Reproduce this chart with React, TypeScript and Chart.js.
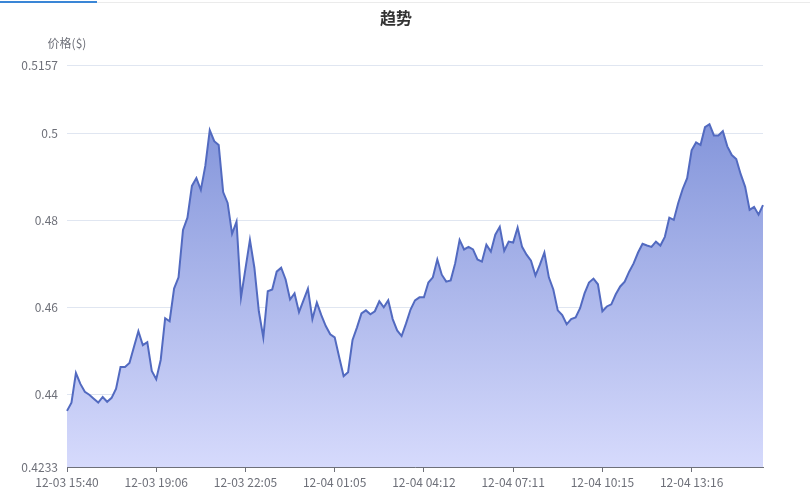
import React, { useEffect, useRef } from "react";
import { Chart, registerables } from "chart.js";

Chart.register(...registerables);

const chartTitle = "趋势";
const yAxisName = "价格($)";
const tickLabels = [
  "12-03 15:40",
  "12-03 19:06",
  "12-03 22:05",
  "12-04 01:05",
  "12-04 04:12",
  "12-04 07:11",
  "12-04 10:15",
  "12-04 13:16",
];
const labelStep = 20;
const yMin = 0.4233;
const yMax = 0.5157;
const yTicks = [0.4233, 0.44, 0.46, 0.48, 0.5, 0.5157];

const prices = [
  0.4362, 0.4381, 0.4449, 0.4424, 0.4406, 0.4399, 0.439, 0.4381, 0.4394, 0.4383,
  0.4392, 0.4413, 0.4463, 0.4463, 0.4472, 0.4509, 0.4545, 0.4513, 0.452, 0.4454,
  0.4435, 0.4479, 0.4575, 0.4568, 0.4643, 0.4669, 0.4778, 0.4806, 0.4879, 0.4897,
  0.487, 0.4925, 0.5007, 0.4982, 0.4973, 0.4865, 0.484, 0.4769, 0.4797, 0.4623,
  0.4689, 0.4755, 0.4691, 0.4591, 0.4531, 0.4637, 0.4641, 0.4682, 0.4691, 0.4664,
  0.4618, 0.4632, 0.4589, 0.4616, 0.4643, 0.4573, 0.4611, 0.4582, 0.4557, 0.4538,
  0.4531, 0.4486, 0.4442, 0.4451, 0.4525, 0.4554, 0.4586, 0.4593, 0.4584, 0.4591,
  0.4614, 0.46, 0.4616, 0.4573, 0.4547, 0.4534, 0.4563, 0.4595, 0.4616, 0.4623,
  0.4623, 0.4657, 0.4669, 0.471, 0.4675, 0.4659, 0.4662, 0.4701, 0.4755, 0.4733,
  0.4739, 0.4733, 0.471, 0.4705, 0.4744, 0.4728, 0.4767, 0.4785, 0.473, 0.4751,
  0.4749, 0.4783, 0.4739, 0.4721, 0.4707, 0.4673, 0.4698, 0.4726, 0.4669, 0.4641,
  0.4593, 0.4582, 0.4561, 0.4573, 0.4577, 0.4598, 0.4632, 0.4657, 0.4666, 0.4653,
  0.4591, 0.4602, 0.4607, 0.463, 0.4648, 0.4659, 0.4682, 0.4701, 0.4726, 0.4746,
  0.4742, 0.4739, 0.4751, 0.4742, 0.4762, 0.4806, 0.4801, 0.484, 0.4872, 0.4897,
  0.4961, 0.4979, 0.4973, 0.5014, 0.5021, 0.4995, 0.4995, 0.5005, 0.497, 0.495,
  0.4941, 0.4906, 0.4877, 0.4824, 0.4831, 0.4813, 0.4835,
];

const FONT = "'Microsoft YaHei', 'Noto Sans CJK SC', sans-serif";

export default function App() {
  const canvasRef = useRef<HTMLCanvasElement | null>(null);

  useEffect(() => {
    document.body.style.margin = "0";
    const canvas = canvasRef.current;
    if (!canvas) return;

    const labels = prices.map((_, i) =>
      i % labelStep === 0 && tickLabels[i / labelStep] ? tickLabels[i / labelStep] : ""
    );

    const titlePlugin = {
      id: "customTitles",
      afterDraw(chart: any) {
        const { ctx, chartArea } = chart;
        ctx.save();
        ctx.fillStyle = "#333333";
        ctx.font = `bold 16px ${FONT}`;
        ctx.textAlign = "center";
        ctx.textBaseline = "middle";
        ctx.fillText(chartTitle, 396, 18);
        ctx.fillStyle = "#6e7079";
        ctx.font = `12px ${FONT}`;
        ctx.fillText(yAxisName, chartArea.left, 43);
        ctx.restore();
      },
    };

    const chart = new Chart(canvas, {
      type: "line",
      data: {
        labels,
        datasets: [
          {
            data: prices,
            borderColor: "rgb(82,106,192)",
            borderWidth: 2,
            pointRadius: 0,
            tension: 0,
            fill: "start",
            backgroundColor: (c: any) => {
              const { chart: ch } = c;
              const area = ch.chartArea;
              if (!area) return "rgba(150,165,230,0.8)";
              const g = ch.ctx.createLinearGradient(0, area.top, 0, area.bottom);
              g.addColorStop(0, "rgb(118,138,213)");
              g.addColorStop(1, "rgb(214,218,252)");
              return g;
            },
          },
        ],
      },
      options: {
        animation: false,
        responsive: false,
        maintainAspectRatio: false,
        layout: { padding: { left: 0, right: 47, top: 65, bottom: 0 } },
        plugins: {
          legend: { display: false },
          tooltip: { enabled: false },
          title: { display: false },
        },
        scales: {
          x: {
            type: "category",
            afterBuildTicks: (axis: any) => {
              axis.ticks = axis.ticks.filter((t: any) => t.value % labelStep === 0);
            },
            afterFit: (scale: any) => {
              scale.height = 35;
            },
            grid: {
              drawOnChartArea: false,
              drawTicks: true,
              tickLength: 5,
              tickColor: "#6e7079",
            },
            border: { display: true, color: "#6e7079", width: 1 },
            ticks: {
              autoSkip: false,
              maxRotation: 0,
              minRotation: 0,
              padding: 3,
              color: "#6e7079",
              font: { family: FONT, size: 12 },
            },
          },
          y: {
            type: "linear",
            min: yMin,
            max: yMax,
            afterBuildTicks: (axis: any) => {
              axis.ticks = yTicks.map((v) => ({ value: v }));
            },
            afterFit: (scale: any) => {
              scale.width = 67;
            },
            grid: {
              drawTicks: false,
              color: "#e0e6f1",
            },
            border: { display: false },
            ticks: {
              padding: 9,
              color: "#6e7079",
              font: { family: FONT, size: 12 },
              callback: (v: any) => String(Number(v)),
            },
          },
        },
      },
      plugins: [titlePlugin],
    });

    return () => chart.destroy();
  }, []);

  return (
    <div style={{ position: "relative", width: 810, height: 502, background: "#ffffff" }}>
      <div style={{ position: "absolute", left: 0, top: 2, width: 810, height: 1, background: "#ebebeb" }} />
      <div style={{ position: "absolute", left: 0, top: 1, width: 97, height: 2, background: "#3a86d6" }} />
      <canvas
        ref={canvasRef}
        width={810}
        height={502}
        style={{ position: "absolute", left: 0, top: 0, width: 810, height: 502 }}
      />
    </div>
  );
}
